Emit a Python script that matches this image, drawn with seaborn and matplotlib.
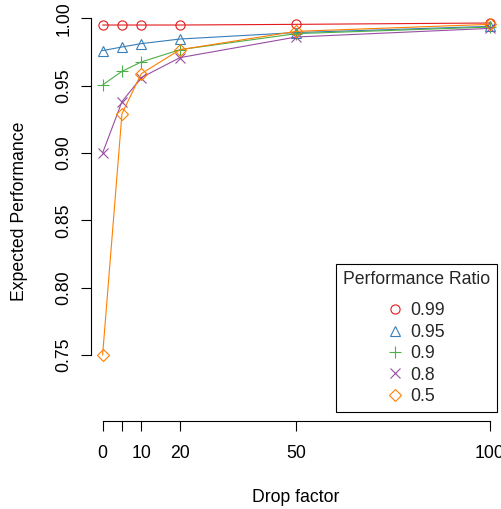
import matplotlib
matplotlib.use("Agg")
import matplotlib.pyplot as plt
from matplotlib.lines import Line2D
from matplotlib.legend_handler import HandlerLine2D
import seaborn as sns
import pandas as pd

# ---- data ----
drop_factor = [0, 5, 10, 20, 50, 100]
ratio_labels = ["0.99", "0.95", "0.9", "0.8", "0.5"]
perf_099 = [0.995, 0.995, 0.995, 0.995, 0.9955, 0.9965]
perf_095 = [0.976, 0.9787, 0.9812, 0.9846, 0.9894, 0.994]
perf_090 = [0.9505, 0.9606, 0.9676, 0.9767, 0.9886, 0.9935]
perf_080 = [0.900, 0.9381, 0.956, 0.9708, 0.9861, 0.9925]
perf_050 = [0.750, 0.9292, 0.9589, 0.9767, 0.9903, 0.9955]
x_ticks = [0, 5, 10, 20, 50, 100]
x_ticklabels = ["0", "", "10", "20", "50", "100"]
y_ticks = [0.75, 0.80, 0.85, 0.90, 0.95, 1.00]
y_ticklabels = ["0.75", "0.80", "0.85", "0.90", "0.95", "1.00"]

series = [perf_099, perf_095, perf_090, perf_080, perf_050]
colors = ["#E41A1C", "#377EB8", "#4DAF4A", "#984EA3", "#FF7F00"]
markers = ["o", "^", "+", "x", "D"]
msizes = [6.6, 7.4, 8.0, 6.6, 5.8]

FS = 12.7

sns.set_theme(style="white")
plt.rcParams["font.family"] = ["Liberation Sans", "DejaVu Sans"]
plt.rcParams["font.size"] = FS

W, H = 501, 509
fig = plt.figure(figsize=(W / 100, H / 100), dpi=100)
left_px, right_px, top_px, bot_px = 91, 501.3, 2.8, 420.7
ax = fig.add_axes([left_px / W, (H - bot_px) / H, (right_px - left_px) / W, (bot_px - top_px) / H])
ax.set_facecolor("white")

frames = []
for lab, vals in zip(ratio_labels, series):
    frames.append(pd.DataFrame({"drop": drop_factor, "perf": vals, "ratio": lab}))
df = pd.concat(frames, ignore_index=True)

for lab, col, mk, ms in zip(ratio_labels, colors, markers, msizes):
    sub = df[df["ratio"] == lab]
    sns.lineplot(data=sub, x="drop", y="perf", ax=ax, color=col, marker=mk,
                 markersize=ms, markerfacecolor="none", markeredgecolor=col,
                 markeredgewidth=0.8, linewidth=0.8, estimator=None, sort=False,
                 legend=False)

ax.set_xlim(-3, 103)
ax.set_ylim(0.7012, 1.0115)
ax.set_xticks(x_ticks)
ax.set_xticklabels(x_ticklabels)
ax.set_yticks(y_ticks)
ax.set_yticklabels(y_ticklabels)

for s in ["top", "right"]:
    ax.spines[s].set_visible(False)
for s in ["left", "bottom"]:
    ax.spines[s].set_visible(True)
    ax.spines[s].set_color("black")
    ax.spines[s].set_linewidth(0.8)
ax.spines["left"].set_bounds(0.75, 1.0)
ax.spines["bottom"].set_bounds(0, 100)

ax.tick_params(axis="both", which="both", direction="out", length=7.5, width=0.8,
               color="black", labelsize=FS, labelcolor="black",
               bottom=True, left=True)
ax.tick_params(axis="x", pad=10)
ax.tick_params(axis="y", pad=6, labelrotation=90)
for t in ax.get_yticklabels():
    t.set_va("center")

ax.set_xlabel("Drop factor", fontsize=FS, color="black", labelpad=19.5)
ax.set_ylabel("Expected Performance", fontsize=FS, color="black", labelpad=19.5)

handles = [Line2D([], [], linestyle="none", marker=mk, markersize=ms,
                  markerfacecolor="none", markeredgecolor=col, color=col,
                  markeredgewidth=0.8)
           for col, mk, ms in zip(colors, markers, msizes)]
handler = HandlerLine2D(numpoints=1, xpad=2.5)
leg = ax.legend(handles, ratio_labels, title="Performance Ratio",
                loc="lower right", bbox_to_anchor=(497 / W, (H - 412) / H),
                bbox_transform=fig.transFigure, borderaxespad=0,
                frameon=True, fancybox=False, edgecolor="black",
                fontsize=FS, title_fontsize=FS, handlelength=3.4,
                handletextpad=0.45, borderpad=0.4, labelspacing=0.25,
                alignment="left",
                handler_map={Line2D: handler})
leg._legend_box.sep = 10
leg.get_frame().set_linewidth(0.8)
leg.get_frame().set_facecolor("white")
leg.get_frame().set_alpha(1)

fig.savefig("out.png", dpi=100, facecolor="white")
